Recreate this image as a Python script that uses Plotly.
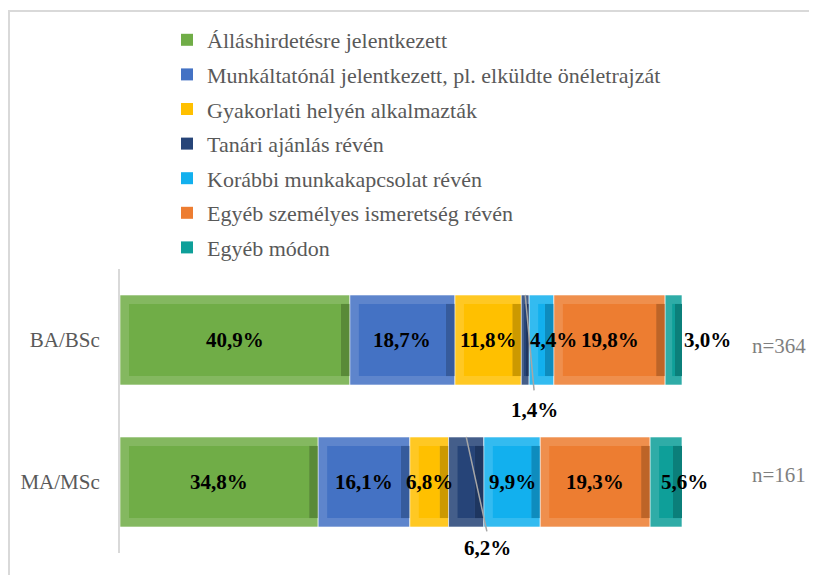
import plotly.graph_objects as go

categories = ["BA/BSc", "MA/MSc"]
sample_sizes = ["n=364", "n=161"]
series_names = [
    "Álláshirdetésre jelentkezett",
    "Munkáltatónál jelentkezett, pl. elküldte önéletrajzát",
    "Gyakorlati helyén alkalmazták",
    "Tanári ajánlás révén",
    "Korábbi munkakapcsolat révén",
    "Egyéb személyes ismeretség révén",
    "Egyéb módon",
]
allashirdetes = [40.9, 34.8]
munkaltatonal = [18.7, 16.1]
gyakorlati = [11.8, 6.8]
tanari = [1.4, 6.2]
korabbi = [4.4, 9.9]
egyeb_ismeretseg = [19.8, 19.3]
egyeb_modon = [3.0, 5.6]
series_values = [allashirdetes, munkaltatonal, gyakorlati, tanari, korabbi,
                 egyeb_ismeretseg, egyeb_modon]

colors = ["#70AD47", "#4472C4", "#FFC000", "#264478", "#12B0EE", "#ED7D31", "#0E9F99"]

# --- styling / layout constants ---
FONT = "Liberation Serif"
W, H = 817, 575
ML, MR, MT, MB = 112, 143, 260, 30
PLOT_W = W - ML - MR
PLOT_H = H - MT - MB
BAR_T = 0.634            # bar thickness (category units)
BEV_PX = 9               # bevel size in px
bev_x = BEV_PX * 100.0 / PLOT_W
bev_y = BEV_PX / (PLOT_H / 2.0)
half_bar_px = BAR_T / 2 * (PLOT_H / 2.0)

# label placement tweaks (px): (series index, category index) -> (xshift, yshift)
label_shift = {(4, 0): (12, 0), (6, 0): (34, 0), (6, 1): (18, 0),
               (3, 0): (9, -70), (3, 1): (21, -66)}
# leader lines from bar top: (series index, category index) -> (ax, ay) px offsets
leader = {(3, 0): (9, 97), (3, 1): (21, 96)}


def shade(hexc, f):
    h = hexc.lstrip("#")
    r, g, b = int(h[0:2], 16), int(h[2:4], 16), int(h[4:6], 16)
    if f >= 0:
        r, g, b = [int(c + (255 - c) * f) for c in (r, g, b)]
    else:
        r, g, b = [int(c * (1 + f)) for c in (r, g, b)]
    return f"rgb({r},{g},{b})"


totals = [sum(s[i] for s in series_values) for i in range(len(categories))]
norm = [[v / totals[i] * 100 for i, v in enumerate(s)] for s in series_values]

fig = go.Figure()
annotations = []
start = [0.0] * len(categories)
for k, (name, vals, nvals, col) in enumerate(zip(series_names, series_values, norm, colors)):
    bases = list(start)
    bx = [min(bev_x, w * 0.42) for w in nvals]
    # outer (light bevel)
    fig.add_trace(go.Bar(
        y=categories, x=nvals, base=bases, orientation="h", width=[BAR_T] * 2,
        marker=dict(color=shade(col, 0.14), line=dict(color="rgba(255,255,255,0.6)", width=1)),
        legendgroup=name, showlegend=False, hoverinfo="skip"))
    # right dark strip
    fig.add_trace(go.Bar(
        y=categories, x=bx, base=[b + w - e for b, w, e in zip(bases, nvals, bx)],
        orientation="h", width=[BAR_T - 2 * bev_y] * 2,
        marker=dict(color=shade(col, -0.2), line=dict(width=0)),
        legendgroup=name, showlegend=False, hoverinfo="skip"))
    # inner face
    fig.add_trace(go.Bar(
        name=name, y=categories, x=[max(w - 2 * e, 0.0) for w, e in zip(nvals, bx)],
        base=[b + e for b, e in zip(bases, bx)], orientation="h",
        width=[BAR_T - 2 * bev_y] * 2,
        marker=dict(color=col, line=dict(width=0)),
        legendgroup=name, showlegend=True, hoverinfo="skip"))
    for i, cat in enumerate(categories):
        cx = bases[i] + nvals[i] / 2
        txt = f"{vals[i]:.1f}%".replace(".", ",")
        if (k, i) in leader:
            ax, ay = leader[(k, i)]
            annotations.append(dict(
                x=cx, y=cat, yshift=half_bar_px, text="",
                showarrow=True, arrowhead=0, arrowwidth=1.5, arrowcolor="#A6A6A6",
                ax=ax, ay=ay, standoff=0, startstandoff=0))
        xs, ys = label_shift.get((k, i), (0, 0))
        annotations.append(dict(
            x=cx, y=cat, text=f"<b>{txt}</b>", showarrow=False, xshift=xs, yshift=ys,
            font=dict(family=FONT, size=21, color="black")))
        start[i] += nvals[i]

for i, cat in enumerate(categories):
    annotations.append(dict(
        x=1.0, xref="paper", y=cat, xanchor="left", xshift=68, yshift=-6 if i == 0 else 7,
        text=sample_sizes[i], showarrow=False,
        font=dict(family=FONT, size=21, color="#7F7F7F")))

fig.update_layout(
    width=W, height=H,
    margin=dict(l=ML, r=MR, t=MT, b=MB, pad=0),
    barmode="overlay",
    paper_bgcolor="white", plot_bgcolor="white",
    font=dict(family=FONT, size=21, color="#595959"),
    showlegend=True,
    legend=dict(
        x=(159 - ML) / PLOT_W, xanchor="left",
        y=1 + (MT - 11) / PLOT_H, yanchor="top",
        font=dict(family=FONT, size=22, color="#595959"),
        tracegroupgap=3, traceorder="grouped", bgcolor="rgba(0,0,0,0)",
    ),
    xaxis=dict(range=[0, 100], visible=False, fixedrange=True),
    yaxis=dict(
        categoryorder="array", categoryarray=categories, range=[1.5, -0.5],
        showline=True, linecolor="#D9D9D9", linewidth=2, ticks="",
        showgrid=False, zeroline=False, ticklabelstandoff=14,
        tickfont=dict(family=FONT, size=21, color="#595959"),
    ),
    annotations=annotations,
    shapes=[dict(type="rect", xref="paper", yref="paper",
                 x0=(1 - ML) / PLOT_W, x1=(W + 20 - ML) / PLOT_W,
                 y0=-(MB + 20) / PLOT_H, y1=1 + (MT - 1) / PLOT_H,
                 line=dict(color="#D9D9D9", width=2), layer="below")],
)

fig.write_html("out.html")
